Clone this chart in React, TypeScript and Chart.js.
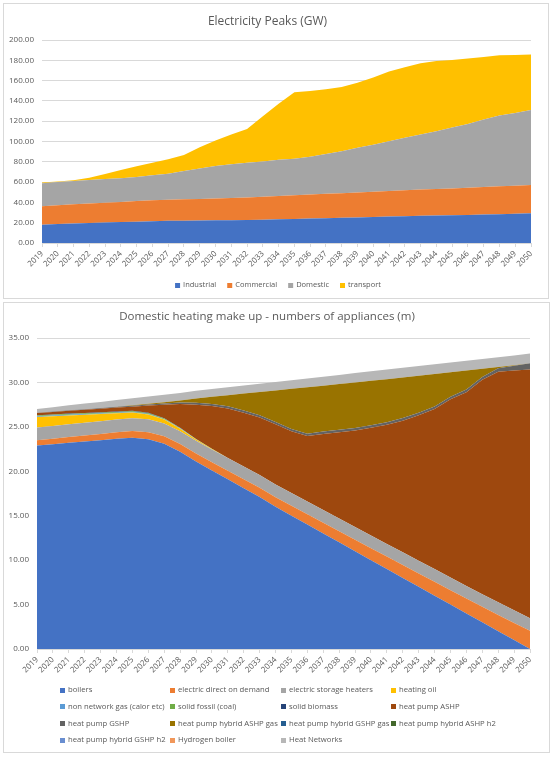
import { useEffect, useRef } from "react";
import { Chart, registerables } from "chart.js";

Chart.register(...registerables);

const FONT = "'Open Sans', sans-serif";
const TEXT = "#595959";
const GRID = "#d9d9d9";

const years = [
  "2019", "2020", "2021", "2022", "2023", "2024", "2025", "2026",
  "2027", "2028", "2029", "2030", "2031", "2032", "2033", "2034",
  "2035", "2036", "2037", "2038", "2039", "2040", "2041", "2042",
  "2043", "2044", "2045", "2046", "2047", "2048", "2049", "2050",
];

// Electricity peaks (GW)
const peakNames = ["Industrial", "Commercial", "Domestic", "transport"];
const peakColors = ["#4472C4", "#ED7D31", "#A5A5A5", "#FFC000"];
const industrial = [18, 18.7, 19.2, 19.7, 20.2, 20.6, 21, 21.4, 21.8, 22, 22.1, 22.3, 22.5, 22.6, 22.9, 23.3, 23.7, 24.1, 24.4, 24.8, 25.2, 25.6, 26, 26.4, 26.8, 27, 27.3, 27.7, 28, 28.4, 28.7, 29.2];
const commercial = [18.3, 18.6, 18.9, 19.2, 19.5, 19.9, 20.4, 20.6, 20.8, 21, 21.3, 21.5, 21.8, 22.3, 22.6, 23, 23.3, 23.6, 24, 24.3, 24.6, 25, 25.3, 25.6, 25.9, 26.2, 26.5, 26.8, 27.1, 27.4, 27.7, 28];
const domestic = [22.5, 22.7, 22.9, 23.1, 23.3, 23.2, 23.6, 24.7, 25.7, 28, 30.1, 32, 33.2, 34.1, 34.9, 35.7, 36, 37.3, 39.2, 41.4, 44, 46.1, 49, 51.6, 54.2, 56.8, 59.9, 62.8, 66.5, 69.7, 71.6, 73.8];
const transport = [0.7, 0.5, 0.8, 2.4, 5, 8.3, 10.5, 12.3, 14.1, 15.6, 20.9, 25.2, 29.4, 33.4, 44.4, 55.3, 65.4, 64.7, 64, 63.1, 64, 66.3, 68.7, 69.6, 70.1, 69.4, 66.7, 64.4, 61.7, 59.5, 57.3, 54.6];
const peakTicks = [0, 20, 40, 60, 80, 100, 120, 140, 160, 180, 200];

// Domestic heating make up (m appliances)
const heatingNames = [
  "boilers", "electric direct on demand", "electric storage heaters", "heating oil",
  "non network gas (calor etc)", "solid fossil (coal)", "solid biomass", "heat pump ASHP",
  "heat pump GSHP", "heat pump hybrid ASHP gas", "heat pump hybrid GSHP gas", "heat pump hybrid ASHP h2",
  "heat pump hybrid GSHP h2", "Hydrogen boiler", "Heat Networks",
];
const heatingColors = [
  "#4472C4", "#ED7D31", "#A5A5A5", "#FFC000",
  "#5B9BD5", "#70AD47", "#264478", "#9E480E",
  "#636363", "#997300", "#255E91", "#43682B",
  "#698ED0", "#F1975A", "#B7B7B7",
];
const boilers = [22.9, 23.05, 23.2, 23.35, 23.5, 23.65, 23.77, 23.6, 23.1, 22.2, 21.1, 20.1, 19.1, 18.1, 17.1, 16.0, 15.0, 14.0, 13.0, 12.0, 11.0, 10.0, 9.0, 8.0, 7.0, 6.0, 5.0, 4.0, 3.0, 2.0, 1.0, 0];
const electricDirect = [0.6, 0.62, 0.65, 0.68, 0.7, 0.73, 0.76, 0.8, 0.83, 0.86, 0.9, 0.93, 0.97, 1.0, 1.04, 1.08, 1.12, 1.16, 1.2, 1.25, 1.3, 1.35, 1.4, 1.45, 1.5, 1.56, 1.62, 1.68, 1.75, 1.83, 1.93, 2.05];
const storageHeaters = [1.43, 1.43, 1.44, 1.44, 1.44, 1.45, 1.45, 1.45, 1.44, 1.44, 1.43, 1.43, 1.43, 1.43, 1.43, 1.43, 1.43, 1.43, 1.43, 1.43, 1.43, 1.43, 1.43, 1.43, 1.43, 1.43, 1.43, 1.42, 1.42, 1.42, 1.42, 1.42];
const heatingOil = [1.19, 1.1, 1.0, 0.9, 0.8, 0.7, 0.63, 0.55, 0.45, 0.3, 0.15, 0.05, 0, 0, 0, 0, 0, 0, 0, 0, 0, 0, 0, 0, 0, 0, 0, 0, 0, 0, 0, 0];
const nonNetworkGas = [0.07, 0.07, 0.07, 0.07, 0.07, 0.07, 0.07, 0.06, 0.05, 0.03, 0.02, 0.01, 0, 0, 0, 0, 0, 0, 0, 0, 0, 0, 0, 0, 0, 0, 0, 0, 0, 0, 0, 0];
const solidFossil = [0.08, 0.08, 0.08, 0.08, 0.08, 0.08, 0.08, 0.07, 0.06, 0.04, 0.02, 0.01, 0, 0, 0, 0, 0, 0, 0, 0, 0, 0, 0, 0, 0, 0, 0, 0, 0, 0, 0, 0];
const solidBiomass = [0.05, 0.05, 0.05, 0.05, 0.05, 0.05, 0.05, 0.05, 0.04, 0.03, 0.02, 0.01, 0, 0, 0, 0, 0, 0, 0, 0, 0, 0, 0, 0, 0, 0, 0, 0, 0, 0, 0, 0];
const heatPumpAshp = [0.25, 0.28, 0.32, 0.36, 0.41, 0.44, 0.46, 0.82, 1.52, 2.66, 3.86, 4.81, 5.57, 6.07, 6.49, 6.79, 6.95, 7.37, 8.57, 9.72, 10.87, 12.12, 13.42, 14.82, 16.37, 18.01, 20.05, 21.79, 24.12, 25.94, 26.99, 27.99];
const heatPumpGshp = [0.03, 0.04, 0.05, 0.06, 0.07, 0.08, 0.1, 0.12, 0.14, 0.17, 0.2, 0.22, 0.24, 0.25, 0.25, 0.26, 0.26, 0.27, 0.27, 0.27, 0.28, 0.28, 0.28, 0.29, 0.29, 0.3, 0.3, 0.31, 0.33, 0.4, 0.55, 0.7];
const hybridAshpGas = [0, 0, 0, 0, 0, 0.02, 0.05, 0.08, 0.15, 0.24, 0.5, 0.81, 1.25, 1.89, 2.61, 3.54, 4.52, 5.23, 5.17, 5.15, 5.12, 5.0, 4.83, 4.56, 4.16, 3.65, 2.75, 2.14, 0.92, 0.15, 0.05, 0];
const hybridGshpGas = [0, 0, 0, 0, 0, 0, 0, 0, 0, 0, 0, 0, 0, 0, 0, 0, 0, 0, 0, 0, 0, 0, 0, 0, 0, 0, 0, 0, 0, 0, 0, 0];
const hybridAshpH2 = [0, 0, 0, 0, 0, 0, 0, 0, 0, 0, 0, 0, 0, 0, 0, 0, 0, 0, 0, 0, 0, 0, 0, 0, 0, 0, 0, 0, 0, 0, 0, 0];
const hybridGshpH2 = [0, 0, 0, 0, 0, 0, 0, 0, 0, 0, 0, 0, 0, 0, 0, 0, 0, 0, 0, 0, 0, 0, 0, 0, 0, 0, 0, 0, 0, 0, 0, 0];
const hydrogenBoiler = [0, 0, 0, 0, 0, 0, 0, 0, 0, 0, 0, 0, 0, 0, 0, 0, 0, 0, 0, 0, 0, 0, 0, 0, 0, 0, 0, 0, 0, 0, 0, 0];
const heatNetworks = [0.42, 0.5, 0.57, 0.63, 0.69, 0.75, 0.8, 0.82, 0.83, 0.84, 0.85, 0.87, 0.89, 0.91, 0.93, 0.95, 0.97, 0.99, 1.01, 1.03, 1.05, 1.07, 1.09, 1.1, 1.1, 1.1, 1.1, 1.1, 1.1, 1.1, 1.1, 1.1];
const heatingTicks = [0, 5, 10, 15, 20, 25, 30, 35];

// Excel-like legend: small squares, either one centred row or fixed columns
const squareLegend = {
  id: "squareLegend",
  afterDraw(chart: any, _args: any, opts: any) {
    const { ctx } = chart;
    const box = opts.box;
    const items = chart.data.datasets.map((d: any) => ({ text: d.label, color: d.backgroundColor }));
    ctx.save();
    ctx.font = `${opts.fontSize}px ${FONT}`;
    ctx.textBaseline = "middle";
    ctx.textAlign = "left";
    const drawItem = (x: number, y: number, it: any) => {
      ctx.fillStyle = it.color;
      ctx.fillRect(x, Math.round(y - box / 2), box, box);
      ctx.fillStyle = TEXT;
      ctx.fillText(it.text, x + box + 3, y);
    };
    if (opts.columns) {
      const n = opts.columns.length;
      items.forEach((it: any, i: number) => {
        drawItem(opts.columns[i % n], opts.top + Math.floor(i / n) * opts.rowHeight, it);
      });
    } else {
      const widths = items.map((it: any) => box + 3 + ctx.measureText(it.text).width);
      const total = widths.reduce((a: number, b: number) => a + b, 0) + opts.gap * (items.length - 1);
      let x = (chart.width - total) / 2 + (opts.shift || 0);
      items.forEach((it: any, i: number) => {
        drawItem(x, opts.top, it);
        x += widths[i] + opts.gap;
      });
    }
    ctx.restore();
  },
};

interface IAreaPanel {
  left: number;
  top: number;
  width: number;
  height: number;
  title: string;
  titleSize: number;
  titlePad: { top: number; bottom: number };
  names: string[];
  colors: string[];
  series: number[][];
  ticks: number[];
  yWidth: number;
  xHeight: number;
  padRight: number;
  padBottom: number;
  legend: any;
}

function AreaPanel(props: IAreaPanel): JSX.Element {
  const canvasRef = useRef<HTMLCanvasElement | null>(null);

  useEffect(() => {
    const canvas = canvasRef.current;
    if (!canvas) return;
    const step = props.ticks[1] - props.ticks[0];
    const chart = new Chart(canvas, {
      type: "line",
      data: {
        labels: years,
        datasets: props.series.map((data, i) => ({
          label: props.names[i],
          data: data,
          backgroundColor: props.colors[i],
          borderColor: props.colors[i],
          borderWidth: 0,
          pointRadius: 0,
          fill: i === 0 ? "origin" : "-1",
        })),
      },
      options: {
        animation: false,
        responsive: false,
        events: [],
        layout: { padding: { left: 0, top: 0, right: props.padRight, bottom: props.padBottom } },
        plugins: {
          legend: { display: false },
          tooltip: { enabled: false },
          title: {
            display: true,
            text: props.title,
            color: TEXT,
            font: { family: FONT, size: props.titleSize, weight: "normal" },
            padding: props.titlePad,
          },
          squareLegend: props.legend,
        } as any,
        scales: {
          x: {
            grid: { display: true, drawOnChartArea: false, drawTicks: true, tickLength: 4, color: GRID },
            border: { display: true, color: GRID },
            ticks: {
              autoSkip: false,
              maxRotation: 45,
              minRotation: 45,
              color: TEXT,
              padding: 2,
              font: { family: FONT, size: 8 },
            },
            afterFit: (scale: any) => {
              scale.height = props.xHeight;
            },
          },
          y: {
            stacked: true,
            min: props.ticks[0],
            max: props.ticks[props.ticks.length - 1],
            grid: { color: GRID, drawTicks: false },
            border: { display: false },
            ticks: {
              stepSize: step,
              padding: 8,
              color: TEXT,
              font: { family: FONT, size: 8 },
              callback: (v: any) => Number(v).toFixed(2),
            },
            afterFit: (scale: any) => {
              scale.width = props.yWidth;
            },
          },
        },
      },
      plugins: [squareLegend as any],
    });
    return () => {
      chart.destroy();
    };
  }, [props]);

  return (
    <div
      style={{
        position: "absolute",
        left: props.left,
        top: props.top,
        width: props.width,
        height: props.height,
        border: `1px solid ${GRID}`,
        boxSizing: "border-box",
        background: "#fff",
      }}
    >
      <canvas
        ref={canvasRef}
        width={props.width - 2}
        height={props.height - 2}
        style={{ display: "block" }}
      ></canvas>
    </div>
  );
}

export default function App(): JSX.Element {
  return (
    <div style={{ position: "absolute", left: 0, top: 0, width: 554, height: 758 }}>
      <AreaPanel
        left={3}
        top={3}
        width={546}
        height={296}
        title="Electricity Peaks (GW)"
        titleSize={12}
        titlePad={{ top: 10, bottom: 11.6 }}
        names={peakNames}
        colors={peakColors}
        series={[industrial, commercial, domestic, transport]}
        ticks={peakTicks}
        yWidth={38}
        xHeight={30}
        padRight={17}
        padBottom={25}
        legend={{ top: 281, fontSize: 7.5, box: 5, gap: 11, shift: 2 }}
      />
      <AreaPanel
        left={3}
        top={302}
        width={547}
        height={451}
        title="Domestic heating make up - numbers of appliances (m)"
        titleSize={11.5}
        titlePad={{ top: 7, bottom: 14.2 }}
        names={heatingNames}
        colors={heatingColors}
        series={[
          boilers, electricDirect, storageHeaters, heatingOil,
          nonNetworkGas, solidFossil, solidBiomass, heatPumpAshp,
          heatPumpGshp, hybridAshpGas, hybridGshpGas, hybridAshpH2,
          hybridGshpH2, hydrogenBoiler, heatNetworks,
        ]}
        ticks={heatingTicks}
        yWidth={33}
        xHeight={30}
        padRight={19}
        padBottom={73}
        legend={{ columns: [56, 166, 277, 387], top: 387, rowHeight: 16.7, fontSize: 7.7, box: 5 }}
      />
    </div>
  );
}
